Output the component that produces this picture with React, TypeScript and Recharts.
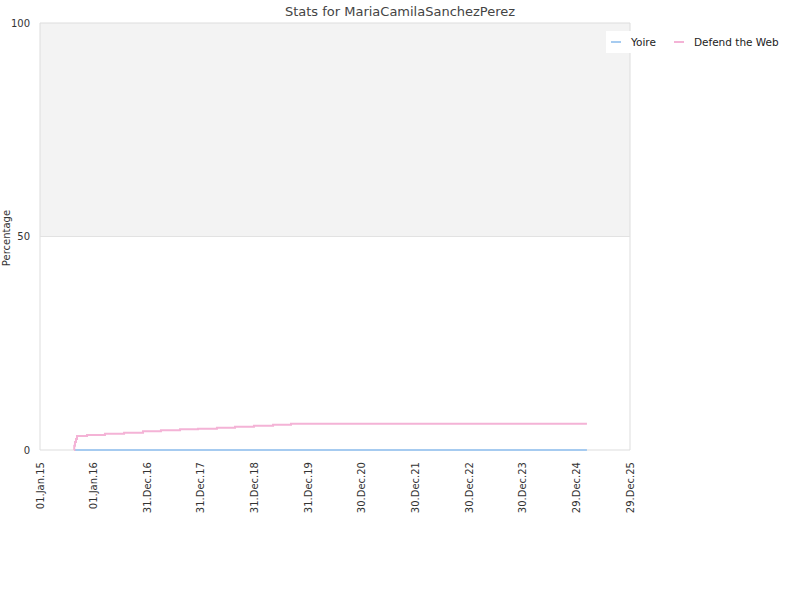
import React from 'react';
import { LineChart, Line, XAxis, YAxis, ReferenceArea, ReferenceLine } from 'recharts';

// days counted from 01.Jan.15
const tickDays = [0, 365, 730, 1095, 1460, 1825, 2190, 2555, 2920, 3285, 3650, 4015];
const yTicks = [0, 50, 100];

const dtwDays = [231, 233, 238, 245, 252, 320, 442, 572, 701, 823, 953, 1075, 1204, 1327, 1456, 1586, 1708, 3722];
const dtwValues = [0, 1.0, 1.9, 2.6, 3.3, 3.5, 3.8, 4.05, 4.4, 4.6, 4.85, 5.0, 5.2, 5.45, 5.7, 5.9, 6.15, 6.15];

const yoireDays = [238, 3722];
const yoireValues = [0, 0];

const dtwData = dtwDays.map((d, i) => ({ day: d, value: dtwValues[i] }));
const yoireData = yoireDays.map((d, i) => ({ day: d, value: yoireValues[i] }));

const MONTHS = ['Jan', 'Feb', 'Mar', 'Apr', 'May', 'Jun', 'Jul', 'Aug', 'Sep', 'Oct', 'Nov', 'Dec'];
const formatDay = (day: number) => {
  const d = new Date(Date.UTC(2015, 0, 1) + day * 86400000);
  const dd = String(d.getUTCDate()).padStart(2, '0');
  const yy = String(d.getUTCFullYear()).slice(2);
  return `${dd}.${MONTHS[d.getUTCMonth()]}.${yy}`;
};

const FONT = '"DejaVu Sans", sans-serif';

const XTick = (props: any) => {
  const { x, payload } = props;
  return (
    <g transform={`translate(${x},462)`}>
      <text transform="rotate(-90)" textAnchor="end" dy="0.35em" fontSize={10} fill="#333" fontFamily={FONT}>
        {formatDay(payload.value)}
      </text>
    </g>
  );
};

export default function App() {
  return (
    <div style={{ position: 'absolute', left: 0, top: 0, width: 800, height: 600, background: '#fff' }}>
      <LineChart width={800} height={600} margin={{ top: 23, right: 170, left: 0, bottom: 0 }}>
        <ReferenceArea x1={0} x2={4015} y1={50} y2={100} fill="#f3f3f3" fillOpacity={1} stroke="none" />
        <ReferenceArea x1={0} x2={4015} y1={0} y2={100} fill="none" stroke="#dddddd" strokeWidth={1} />
        <ReferenceLine y={50} stroke="#e2e2e2" />
        <XAxis
          dataKey="day"
          type="number"
          domain={[0, 4015]}
          ticks={tickDays}
          interval={0}
          axisLine={false}
          tickLine={false}
          height={150}
          tick={<XTick />}
        />
        <YAxis
          type="number"
          domain={[0, 100]}
          ticks={yTicks}
          width={40}
          axisLine={false}
          tickLine={false}
          tickMargin={4}
          tick={{ fontSize: 10, fill: '#333', fontFamily: FONT }}
        />
        <Line data={yoireData} dataKey="value" type="stepAfter" stroke="#a6cbf0" strokeWidth={2} dot={false} isAnimationActive={false} name="Yoire" />
        <Line data={dtwData} dataKey="value" type="stepAfter" stroke="#f4b3d6" strokeWidth={2} dot={false} isAnimationActive={false} name="Defend the Web" />
      </LineChart>
      <div style={{ position: 'absolute', zIndex: 2, top: 3, left: 0, width: 800, textAlign: 'center', fontFamily: FONT, fontSize: 13, color: '#444', lineHeight: '18px' }}>
        Stats for MariaCamilaSanchezPerez
      </div>
      <div style={{ position: 'absolute', zIndex: 2, left: 7, top: 238, transform: 'translate(-50%,-50%) rotate(-90deg)', fontFamily: FONT, fontSize: 10, color: '#333', whiteSpace: 'nowrap', lineHeight: '12px' }}>
        Percentage
      </div>
      <div style={{ position: 'absolute', zIndex: 2, top: 31, left: 606, width: 194, background: '#fff', display: 'flex', alignItems: 'center', height: 22, paddingLeft: 5, boxSizing: 'border-box', fontFamily: FONT, fontSize: 10.5, color: '#222' }}>
        <span style={{ width: 10, height: 2, background: '#a6cbf0', display: 'inline-block', marginRight: 10 }} />
        <span style={{ marginRight: 18 }}>Yoire</span>
        <span style={{ width: 10, height: 2, background: '#f4b3d6', display: 'inline-block', marginRight: 10 }} />
        <span>Defend the Web</span>
      </div>
    </div>
  );
}
